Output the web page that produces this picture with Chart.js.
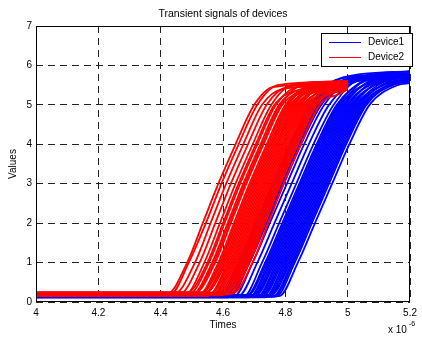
<!DOCTYPE html>
<html>
<head>
<meta charset="utf-8">
<script src="https://cdn.jsdelivr.net/npm/chart.js@4"></script>
<style>body{margin:0;background:#fff}canvas{display:block}</style>
</head>
<body>
<canvas id="c" width="422" height="338"></canvas>
<script>
// x in units of 1e-6 s
const xTicks = [4, 4.2, 4.4, 4.6, 4.8, 5, 5.2];
const yTicks = [0, 1, 2, 3, 4, 5, 6, 7];
const riseLevels = [1, 2, 3, 4, 5];
const startTime = 4.0;
const redEndTime = 5.0;
const blueEndTime = 5.2;

// each row: base, leaves base at, crosses 1,2,3,4,5 at, reaches top at, top, value at end
const redCurves = [
  [0.20, 4.420, 4.485, 4.535, 4.585, 4.640, 4.700, 4.760, 5.45, 5.55],
  [0.18, 4.430, 4.490, 4.545, 4.595, 4.650, 4.710, 4.775, 5.50, 5.60],
  [0.22, 4.445, 4.510, 4.560, 4.610, 4.665, 4.725, 4.790, 5.40, 5.50],
  [0.20, 4.460, 4.525, 4.575, 4.625, 4.680, 4.740, 4.805, 5.45, 5.55],
  [0.16, 4.475, 4.540, 4.590, 4.640, 4.695, 4.755, 4.820, 5.50, 5.60],
  [0.24, 4.485, 4.550, 4.600, 4.650, 4.705, 4.765, 4.830, 5.35, 5.45],
  [0.20, 4.490, 4.555, 4.605, 4.655, 4.710, 4.770, 4.840, 5.45, 5.50],
  [0.19, 4.500, 4.565, 4.615, 4.665, 4.720, 4.780, 4.850, 5.40, 5.50],
  [0.21, 4.505, 4.570, 4.620, 4.670, 4.725, 4.785, 4.855, 5.50, 5.55],
  [0.23, 4.510, 4.575, 4.625, 4.675, 4.730, 4.790, 4.860, 5.35, 5.45],
  [0.17, 4.520, 4.585, 4.635, 4.685, 4.740, 4.800, 4.870, 5.45, 5.55],
  [0.20, 4.525, 4.590, 4.640, 4.690, 4.745, 4.805, 4.875, 5.40, 5.50],
  [0.22, 4.530, 4.595, 4.645, 4.695, 4.750, 4.810, 4.880, 5.50, 5.55],
  [0.18, 4.535, 4.600, 4.650, 4.700, 4.755, 4.815, 4.885, 5.35, 5.45],
  [0.20, 4.540, 4.605, 4.655, 4.705, 4.760, 4.820, 4.890, 5.45, 5.50],
  [0.25, 4.545, 4.610, 4.660, 4.710, 4.765, 4.825, 4.895, 5.40, 5.55],
  [0.15, 4.550, 4.615, 4.665, 4.715, 4.770, 4.830, 4.900, 5.50, 5.60],
  [0.20, 4.555, 4.620, 4.670, 4.720, 4.775, 4.835, 4.905, 5.35, 5.45],
  [0.22, 4.560, 4.625, 4.675, 4.725, 4.780, 4.840, 4.910, 5.45, 5.50],
  [0.19, 4.565, 4.630, 4.680, 4.730, 4.785, 4.845, 4.915, 5.40, 5.45],
  [0.21, 4.570, 4.635, 4.685, 4.735, 4.790, 4.850, 4.920, 5.45, 5.50],
  [0.20, 4.575, 4.640, 4.690, 4.740, 4.795, 4.855, 4.925, 5.35, 5.45],
  [0.18, 4.580, 4.645, 4.695, 4.745, 4.800, 4.860, 4.930, 5.40, 5.50],
  [0.23, 4.585, 4.650, 4.700, 4.750, 4.805, 4.865, 4.935, 5.45, 5.50],
  [0.20, 4.590, 4.655, 4.705, 4.755, 4.810, 4.870, 4.940, 5.35, 5.40],
  [0.17, 4.595, 4.660, 4.710, 4.760, 4.815, 4.875, 4.945, 5.40, 5.45],
  [0.21, 4.600, 4.665, 4.715, 4.765, 4.820, 4.880, 4.950, 5.45, 5.50],
  [0.20, 4.605, 4.670, 4.720, 4.770, 4.825, 4.885, 4.955, 5.30, 5.40],
  [0.24, 4.610, 4.675, 4.725, 4.775, 4.830, 4.890, 4.960, 5.40, 5.45],
  [0.19, 4.615, 4.680, 4.730, 4.780, 4.835, 4.895, 4.965, 5.35, 5.40],
  [0.20, 4.620, 4.685, 4.735, 4.785, 4.840, 4.900, 4.970, 5.40, 5.45],
  [0.22, 4.630, 4.695, 4.745, 4.795, 4.850, 4.910, 4.980, 5.30, 5.40]
];

const blueCurves = [
  [0.15, 4.590, 4.650, 4.705, 4.760, 4.815, 4.880, 4.970, 5.65, 5.80],
  [0.13, 4.595, 4.655, 4.710, 4.765, 4.820, 4.885, 4.975, 5.60, 5.75],
  [0.17, 4.600, 4.660, 4.715, 4.770, 4.825, 4.890, 4.980, 5.55, 5.70],
  [0.14, 4.605, 4.665, 4.720, 4.775, 4.830, 4.895, 4.985, 5.70, 5.85],
  [0.16, 4.610, 4.670, 4.725, 4.780, 4.835, 4.900, 4.990, 5.60, 5.75],
  [0.12, 4.615, 4.675, 4.730, 4.785, 4.840, 4.905, 4.995, 5.65, 5.80],
  [0.15, 4.620, 4.680, 4.735, 4.790, 4.845, 4.910, 5.000, 5.55, 5.70],
  [0.18, 4.625, 4.685, 4.740, 4.795, 4.850, 4.915, 5.005, 5.60, 5.75],
  [0.14, 4.635, 4.695, 4.750, 4.805, 4.860, 4.925, 5.015, 5.65, 5.80],
  [0.16, 4.650, 4.710, 4.765, 4.820, 4.875, 4.940, 5.030, 5.60, 5.75],
  [0.13, 4.665, 4.725, 4.780, 4.835, 4.890, 4.955, 5.045, 5.70, 5.85],
  [0.15, 4.675, 4.735, 4.790, 4.845, 4.900, 4.965, 5.055, 5.60, 5.75],
  [0.17, 4.680, 4.740, 4.795, 4.850, 4.905, 4.970, 5.060, 5.65, 5.80],
  [0.12, 4.685, 4.745, 4.800, 4.855, 4.910, 4.975, 5.065, 5.55, 5.70],
  [0.16, 4.690, 4.750, 4.805, 4.860, 4.915, 4.980, 5.070, 5.70, 5.85],
  [0.14, 4.695, 4.755, 4.810, 4.865, 4.920, 4.985, 5.075, 5.60, 5.75],
  [0.15, 4.700, 4.760, 4.815, 4.870, 4.925, 4.990, 5.080, 5.65, 5.80],
  [0.18, 4.705, 4.765, 4.820, 4.875, 4.930, 4.995, 5.085, 5.55, 5.70],
  [0.13, 4.710, 4.770, 4.825, 4.880, 4.935, 5.000, 5.090, 5.60, 5.80],
  [0.16, 4.715, 4.775, 4.830, 4.885, 4.940, 5.005, 5.095, 5.65, 5.75],
  [0.14, 4.720, 4.780, 4.835, 4.890, 4.945, 5.010, 5.100, 5.55, 5.70],
  [0.15, 4.725, 4.785, 4.840, 4.895, 4.950, 5.015, 5.105, 5.60, 5.75],
  [0.17, 4.730, 4.790, 4.845, 4.900, 4.955, 5.020, 5.110, 5.65, 5.80],
  [0.12, 4.735, 4.795, 4.850, 4.905, 4.960, 5.025, 5.115, 5.50, 5.65],
  [0.16, 4.740, 4.800, 4.855, 4.910, 4.965, 5.030, 5.120, 5.60, 5.70],
  [0.14, 4.745, 4.805, 4.860, 4.915, 4.970, 5.035, 5.125, 5.55, 5.65],
  [0.15, 4.750, 4.810, 4.865, 4.920, 4.975, 5.040, 5.130, 5.60, 5.70],
  [0.18, 4.755, 4.815, 4.870, 4.925, 4.980, 5.045, 5.135, 5.50, 5.60],
  [0.13, 4.760, 4.820, 4.875, 4.930, 4.985, 5.050, 5.140, 5.55, 5.65],
  [0.16, 4.765, 4.825, 4.880, 4.935, 4.990, 5.055, 5.145, 5.50, 5.60],
  [0.14, 4.770, 4.830, 4.885, 4.940, 4.995, 5.060, 5.150, 5.55, 5.60],
  [0.15, 4.780, 4.840, 4.895, 4.950, 5.005, 5.070, 5.160, 5.50, 5.55]
];

function curvePoints(row, endTime) {
  const pts = [{ x: startTime, y: row[0] }, { x: row[1], y: row[0] }];
  riseLevels.forEach((lv, i) => pts.push({ x: row[2 + i], y: lv }));
  pts.push({ x: row[7], y: row[8] });
  pts.push({ x: endTime, y: row[9] });
  return pts;
}

const datasets = [];
// red listed first so it is painted over blue
redCurves.forEach(r => datasets.push({ label: "Device2", data: curvePoints(r, redEndTime), borderColor: "#ff0000" }));
blueCurves.forEach(r => datasets.push({ label: "Device1", data: curvePoints(r, blueEndTime), borderColor: "#0000ff" }));

const font = '"Liberation Sans", Arial, sans-serif';

const decor = {
  id: "decor",
  afterDatasetsDraw(chart) {
    const { ctx, chartArea: a } = chart;
    ctx.save();
    ctx.strokeStyle = "#000";
    ctx.lineWidth = 1;
    ctx.setLineDash([]);
    ctx.strokeRect(Math.round(a.left) + 0.5, Math.round(a.top) + 0.5, Math.round(a.right - a.left) - 1, Math.round(a.bottom - a.top) - 1);

    // legend
    const lx = 321, ly = 33, lw = 91, lh = 33;
    ctx.fillStyle = "#fff";
    ctx.fillRect(lx, ly, lw, lh);
    ctx.strokeRect(lx + 0.5, ly + 0.5, lw, lh);
    const items = [["Device1", "#0000ff"], ["Device2", "#ff0000"]];
    ctx.font = "10px " + font;
    ctx.textBaseline = "middle";
    ctx.textAlign = "left";
    items.forEach((it, i) => {
      const y = ly + 9.5 + i * 15;
      ctx.strokeStyle = it[1];
      ctx.beginPath();
      ctx.moveTo(lx + 8, y);
      ctx.lineTo(lx + 40, y);
      ctx.stroke();
      ctx.fillStyle = "#000";
      ctx.fillText(it[0], lx + 47, y);
    });

    // titles
    ctx.fillStyle = "#000";
    ctx.textAlign = "center";
    ctx.font = "10.5px " + font;
    ctx.fillText("Transient signals of devices", (a.left + a.right) / 2, 14);
    ctx.font = "10px " + font;
    ctx.fillText("Times", (a.left + a.right) / 2, 325);
    ctx.save();
    ctx.translate(13, (a.top + a.bottom) / 2);
    ctx.rotate(-Math.PI / 2);
    ctx.fillText("Values", 0, 0);
    ctx.restore();
    ctx.textAlign = "left";
    ctx.fillText("x 10", 388, 330);
    ctx.font = "7px " + font;
    ctx.fillText("-6", 409, 324);
    ctx.restore();
  }
};

new Chart(document.getElementById("c"), {
  type: "line",
  data: { datasets },
  options: {
    responsive: false,
    animation: false,
    events: [],
    layout: { padding: { top: 26, right: 6, left: 0, bottom: 0 } },
    elements: { point: { radius: 0 }, line: { borderWidth: 1.8, cubicInterpolationMode: "monotone" } },
    plugins: { legend: { display: false }, tooltip: { enabled: false } },
    scales: {
      x: {
        type: "linear",
        min: 4, max: 5.2,
        afterFit(s) { s.height = 36; },
        afterBuildTicks(s) { s.ticks = xTicks.map(v => ({ value: v })); },
        ticks: { padding: 5, color: "#000", font: { family: font, size: 10 }, callback: v => String(Number(v.toFixed(1))) },
        grid: { color: "#222", drawTicks: false, lineWidth: 1 },
        border: { display: false, dash: [7, 5] }
      },
      y: {
        min: 0, max: 7,
        afterFit(s) { s.width = 36; },
        afterBuildTicks(s) { s.ticks = yTicks.map(v => ({ value: v })); },
        ticks: { padding: 4, color: "#000", font: { family: font, size: 10 } },
        grid: { color: "#222", drawTicks: false, lineWidth: 1 },
        border: { display: false, dash: [7, 5] }
      }
    }
  },
  plugins: [decor]
});
</script>
</body>
</html>
